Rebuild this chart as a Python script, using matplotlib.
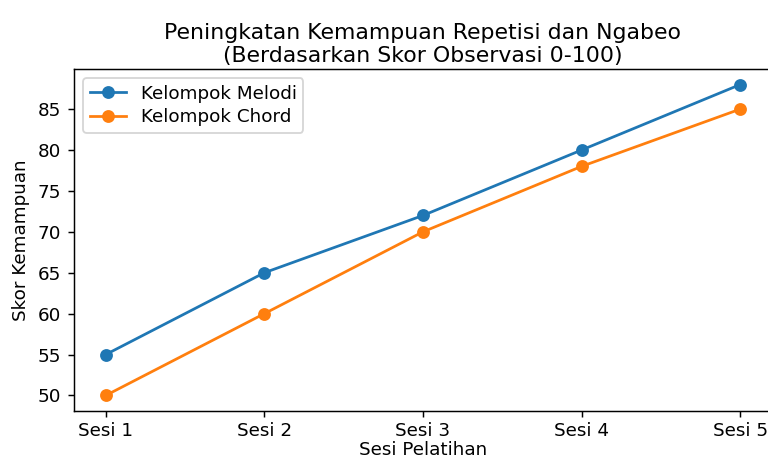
import matplotlib
matplotlib.use("Agg")
import matplotlib.pyplot as plt

sessions = ["Sesi 1", "Sesi 2", "Sesi 3", "Sesi 4", "Sesi 5"]
melodi = [55, 65, 72, 80, 88]
chord = [50, 60, 70, 78, 85]

DPI = 132
fig = plt.figure(figsize=(768/DPI, 459/DPI), dpi=DPI)
ax = fig.add_axes([74/768, 1-411/459, (772-74)/768, (411-69)/459])
ax.plot(sessions, melodi, marker="o", label="Kelompok Melodi")
ax.plot(sessions, chord, marker="o", label="Kelompok Chord")
ax.set_title("Peningkatan Kemampuan Repetisi dan Ngabeo\n(Berdasarkan Skor Observasi 0-100)",
             linespacing=1.15, pad=4)
ax.tick_params(axis="x", pad=2.5)
ax.set_xlabel("Sesi Pelatihan", labelpad=0.5)
ax.set_ylabel("Skor Kemampuan")
ax.legend(loc="upper left", labelspacing=0.3, borderpad=0.35)
fig.savefig("out.png", dpi=DPI)
